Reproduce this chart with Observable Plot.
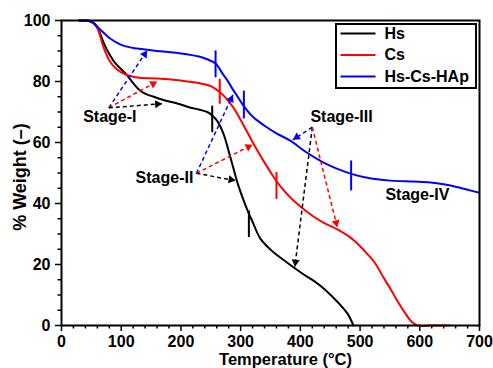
<!DOCTYPE html>
<html><head><meta charset="utf-8">
<script src="https://cdn.jsdelivr.net/npm/d3@7"></script>
<script src="https://cdn.jsdelivr.net/npm/@observablehq/plot@0.6"></script>
<style>
body{margin:0;background:#fff;}
#chart{width:493px;height:368px;}
</style>
</head><body><div id="chart"></div>
<script>
// ---- data ----
const hsT = [30,50,60,71,80,90,100,110,120,130,140,150,160,175,194,215,230,244,253,261,271,283,295,305,313,320,333,355,372,389,405,422,440,455,468,479,489];
const hsW = [100,99.8,97.8,92.5,89,86,84,82,79.5,77.3,76,75.3,74.6,73.7,72.8,71.5,70.8,70,68.8,67,63,55,46.6,41,37,34,28.5,24,21.5,19,16.8,14.7,12,9.2,6.5,3.9,0];
const csT = [30,45,50,60,70,80,90,100,115,130,160,200,230,250,266,280,290,305,328,350,365,383,400,420,440,462,484,500,512,525,539,551,562,575,586,596,620,651];
const csW = [100,99.8,99.6,97.5,91.5,87,84.5,83,81.8,81.2,81,80.3,79.5,78.5,76.4,73.5,70.8,65.6,57.4,50.3,46,42,39,36,33.6,31.5,28.8,26,23.5,20.5,15.8,12,8.2,4.2,1.3,0,0,0];
const hapT = [30,45,53,65,82,100,120,140,170,200,230,245,258,270,278,285,295,305,320,340,360,383,410,439,460,484,510,551,590,618,640,660,680,698];
const hapW = [100,99.8,99.2,97,94,92,91,90.5,89.8,89.2,88.2,87.2,85.9,82.5,80.3,78,75,72,68.5,65.5,63,60.6,56.8,53.4,51.5,49.8,48.5,47.5,47.2,46.9,46.3,45.5,44.5,43.6];

const seriesNames = ["Hs","Cs","Hs-Cs-HAp"];
const seriesColors = ["#000000","#ff0000","#0000ff"];

// stage boundary tick marks: series index, temperature, low/high weight
const bndSeries = [0,0,1,1,2,2,2];
const bndT = [252.4,313.8,265,360,258,305.4,485];
const bndLo = [63.4,29,72.7,41.5,81.4,67.9,44.3];
const bndHi = [72.1,37.7,80.9,50.3,90.2,77,54.1];

// stage labels
const stageNames = ["Stage-I","Stage-II","Stage-III","Stage-IV"];
const stageT = [81,172.5,469,596];
const stageW = [68.4,48.5,68.5,42.8];

// annotation arrows: stage index, target series, from -> to
const arStage = [0,0,0,1,1,1,2,2,2];
const arSeries = [2,1,0,2,1,0,2,0,1];
const arFromT = [79.3,79.3,79.3,226,226,226,420,420,420];
const arFromW = [71.4,71.4,71.4,49.9,49.9,49.9,65,65,65];
const arToT = [143.5,160.3,168.6,287,320,291.5,387.5,390.8,461.8];
const arToW = [90.2,80,72.7,75.6,59.3,47.5,60.9,19.3,32.2];

const xTicks = d3.range(0,701,100);
const yTicks = d3.range(0,101,20);

// ---- layout ----
const W=493,H=368,ML=61,MR=14,MT=20,MB=43;
const pxX=(W-ML-MR)/700, pxY=(H-MT-MB)/100;
const dataX = px => (px-ML)/pxX;
const dataY = py => 100-(py-MT)/pxY;

const curves = [[hsT,hsW],[csT,csW],[hapT,hapW]].map(([T,Wt],s)=>T.map((t,i)=>({t,w:Wt[i],s})));
const bnds = bndT.map((t,i)=>({t,lo:bndLo[i],hi:bndHi[i],c:seriesColors[bndSeries[i]]}));
const r=3;
const off = 2*Math.sqrt(Math.PI*r*r/(3*Math.sqrt(3)));
const arrows = arToT.map((t,i)=>{
  const dx=t-arFromT[i], dy=arToW[i]-arFromW[i];
  const th=Math.atan2(dx*pxX, dy*pxY);
  return {x1:arFromT[i],y1:arFromW[i],x2:t,y2:arToW[i],
    cx:t-off*Math.sin(th)/pxX, cy:arToW[i]-off*Math.cos(th)/pxY,
    ang:th*180/Math.PI, c:seriesColors[arSeries[i]]};
});
const stages = stageNames.map((n,i)=>({n,t:stageT[i],w:stageW[i]}));
const legend = seriesNames.map((n,i)=>({n,c:seriesColors[i],
  x1:dataX(340),x2:dataX(375),xt:dataX(384),y:dataY(33+i*21.5)}));

const font = {fontSize:16, fontWeight:"bold", fill:"black"};

const chart = Plot.plot({
  width:W, height:H, marginLeft:ML, marginRight:MR, marginTop:MT, marginBottom:MB,
  style:{fontFamily:"'Liberation Sans', Arial, sans-serif", background:"white", color:"black"},
  x:{domain:[0,700]},
  y:{domain:[0,100]},
  color:{type:"identity"},
  marks:[
    Plot.axisX({ticks:xTicks, tickSize:6, tickPadding:4, tickFormat:d=>String(d), label:null, strokeWidth:1.5, ...font}),
    Plot.axisX({ticks:d3.range(0,701,20).filter(v=>v%100), tickSize:3.5, text:null, label:null, strokeWidth:1.5}),
    Plot.axisY({ticks:yTicks, tickSize:6, tickPadding:5, tickFormat:d=>String(d), label:null, strokeWidth:1.5, ...font}),
    Plot.axisY({ticks:d3.range(0,101,5).filter(v=>v%20), tickSize:3.5, text:null, label:null, strokeWidth:1.5}),
    ...curves.map((c,s)=>Plot.line(c,{x:"t",y:"w",stroke:seriesColors[s],strokeWidth:2,curve:"catmull-rom"})),
    Plot.link(bnds,{x1:"t",x2:"t",y1:"lo",y2:"hi",stroke:"c",strokeWidth:2}),
    Plot.link(arrows,{x1:"x1",y1:"y1",x2:"x2",y2:"y2",stroke:"c",strokeWidth:1.5,strokeDasharray:"4,3"}),
    Plot.dot(arrows,{x:"cx",y:"cy",symbol:"triangle",r,fill:"c",stroke:null,rotate:"ang"}),
    Plot.text(stages,{x:"t",y:"w",text:"n",...font}),
    // legend
    Plot.rect([0],{x1:dataX(336),x2:dataX(476),y1:dataY(88),y2:dataY(24),fill:"white",stroke:"black",strokeWidth:2}),
    Plot.link(legend,{x1:"x1",x2:"x2",y1:"y",y2:"y",stroke:"c",strokeWidth:2}),
    Plot.text(legend,{x:"xt",y:"y",text:"n",textAnchor:"start",...font}),
    // axis titles
    Plot.text([0],{frameAnchor:"bottom",text:()=>"Temperature (°C)",lineAnchor:"middle",dy:34.5,dx:15,fontSize:16.5,fontWeight:"bold",fill:"black"}),
    Plot.text([0],{frameAnchor:"left",text:()=>"% Weight (–)",textAnchor:"middle",lineAnchor:"middle",rotate:-90,dx:-41,dy:4,fontSize:18,fontWeight:"bold",fill:"black"}),
    Plot.frame({stroke:"black",strokeWidth:2})
  ]
});
document.getElementById("chart").appendChild(chart);
</script>
</body></html>
